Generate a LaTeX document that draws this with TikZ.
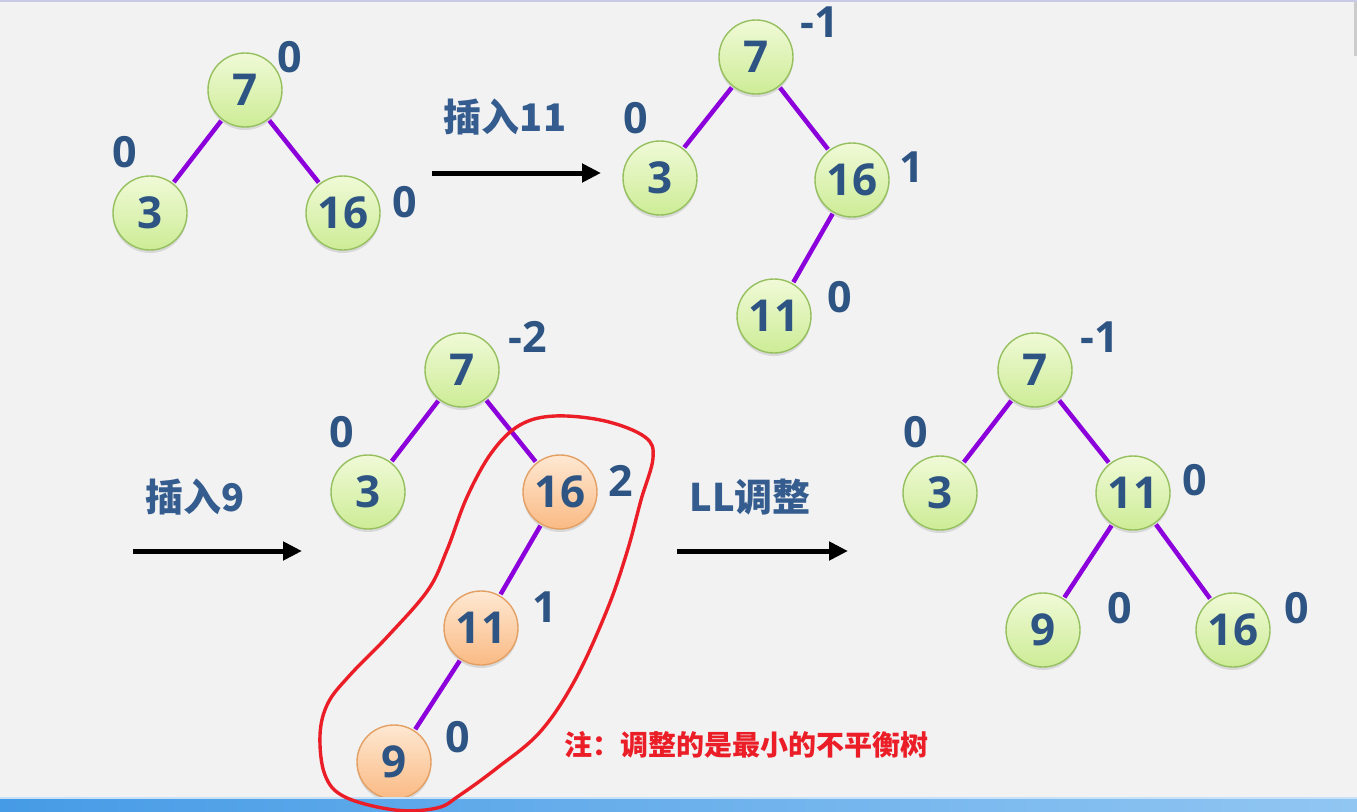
\documentclass[tikz,border=0pt]{standalone}
\usepackage{fontspec}
\setmainfont{Open Sans}
\newfontfamily\cjk{Noto Sans CJK SC}
\usetikzlibrary{arrows.meta,shadows}
\definecolor{bg}{RGB}{242,242,242}
\definecolor{numblue}{RGB}{45,84,130}
\definecolor{labblue}{RGB}{52,92,142}
\definecolor{edgepurple}{RGB}{140,0,220}
\definecolor{gtop}{RGB}{240,250,215}
\definecolor{gbot}{RGB}{205,236,150}
\definecolor{gborder}{RGB}{150,192,95}
\definecolor{otop}{RGB}{254,232,210}
\definecolor{obot}{RGB}{250,186,132}
\definecolor{oborder}{RGB}{228,160,100}
\definecolor{notered}{RGB}{235,30,40}
\definecolor{barleft}{RGB}{70,155,230}
\definecolor{barright}{RGB}{145,198,242}
\begin{document}
\begin{tikzpicture}[x=1pt,y=-1pt,
  treenode/.style={circle,minimum size=74pt,inner sep=0pt,outer sep=2pt,line width=1.4pt,
    font=\fontsize{44}{44}\selectfont\bfseries,text=numblue,
    drop shadow={shadow xshift=0pt,shadow yshift=-3pt,opacity=0.22}},
  gnode/.style={treenode,draw=gborder,top color=gtop,bottom color=gbot},
  onode/.style={treenode,draw=oborder,top color=otop,bottom color=obot},
  bal/.style={font=\fontsize{43}{43}\selectfont\bfseries,text=numblue,inner sep=0pt},
  steplabel/.style={font=\cjk\bfseries\fontsize{38}{38}\selectfont,text=labblue,inner sep=0pt},
  link/.style={draw=edgepurple,line width=4.5pt},
  arr/.style={line width=5pt,-{Triangle[length=19pt,width=18pt]}},
]
\useasboundingbox (0,0) rectangle (1357,811);
\fill[bg] (0,0) rectangle (1357,811);
\fill[gray!60!blue!30] (0,0) rectangle (1357,2);
\fill[black!20] (1354,2) rectangle (1357,56);

% Tree 1
\node[gnode] (a7) at (245,90) {7};
\node[gnode] (a3) at (150,213) {3};
\node[gnode] (a16) at (343,213) {16};
\draw[link] (a7) -- (a3);
\draw[link] (a7) -- (a16);
\node[bal] (la7) at (290,57) {0};
\node[bal] (la3) at (125,152) {0};
\node[bal] (la16) at (405,202) {0};

% Arrow 1
\coordinate (s1) at (432,173);
\coordinate (e1) at (601,173);
\draw[arr] (s1) -- (e1);
\node[steplabel] (t1) at (505,117) {插入11};

% Tree 2
\node[gnode] (b7) at (756,57) {7};
\node[gnode] (b3) at (660,178) {3};
\node[gnode] (b16) at (852,180) {16};
\node[gnode] (b11) at (774,316) {11};
\draw[link] (b7) -- (b3);
\draw[link] (b7) -- (b16);
\draw[link] (b16) -- (b11);
\node[bal] (lb7) at (820,22) {-1};
\node[bal] (lb3) at (636,118) {0};
\node[bal] (lb16) at (912,167) {1};
\node[bal] (lb11) at (840,297) {0};

% Arrow 2
\coordinate (s2) at (133,551);
\coordinate (e2) at (302,551);
\draw[arr] (s2) -- (e2);
\node[steplabel] (t2) at (195,497) {插入9};

% Tree 3
\node[gnode] (c7) at (462,370) {7};
\node[gnode] (c3) at (368,492) {3};
\node[onode] (c16) at (560,492) {16};
\node[onode] (c11) at (481,628) {11};
\node[onode] (c9) at (394,762) {9};
\draw[link] (c7) -- (c3);
\draw[link] (c7) -- (c16);
\draw[link] (c16) -- (c11);
\draw[link] (c11) -- (c9);
\node[bal] (lc7) at (528,337) {-2};
\node[bal] (lc3) at (342,432) {0};
\node[bal] (lc16) at (621,481) {2};
\node[bal] (lc11) at (545,607) {1};
\node[bal] (lc9) at (458,737) {0};

% Arrow 3
\coordinate (s3) at (677,551);
\coordinate (e3) at (848,551);
\draw[arr] (s3) -- (e3);
\node[steplabel] (t3) at (750,497) {LL调整};

% Tree 4
\node[gnode] (d7) at (1035,370) {7};
\node[gnode] (d3) at (940,493) {3};
\node[gnode] (d11) at (1133,493) {11};
\node[gnode] (d9) at (1043,630) {9};
\node[gnode] (d16) at (1233,630) {16};
\draw[link] (d7) -- (d3);
\draw[link] (d7) -- (d11);
\draw[link] (d11) -- (d9);
\draw[link] (d11) -- (d16);
\node[bal] (ld7) at (1100,337) {-1};
\node[bal] (ld3) at (916,432) {0};
\node[bal] (ld11) at (1195,480) {0};
\node[bal] (ld9) at (1120,608) {0};
\node[bal] (ld16) at (1297,608) {0};

% Note
\node[font=\cjk\bfseries\fontsize{28}{28}\selectfont,text=notered,inner sep=0pt] (note) at (746,745) {注：调整的是最小的不平衡树};

% taskbar
\shade[left color=barleft,right color=barright] (0,797) rectangle (1357,811);
\fill[white!70!barleft] (0,797) rectangle (1357,798.5);

% red loop
\draw[notered,line width=3.4pt] plot[smooth cycle,tension=0.6] coordinates {
 (520,425) (555,416) (605,421) (645,437) (653,458) (641,500) (627,552) (607,610)
 (575,680) (540,732) (497,768) (460,795) (437,808) (395,810) (345,797) (325,775)
 (320,735) (328,703) (350,675) (388,636) (428,590) (447,550) (467,497) (492,452)};
\end{tikzpicture}
\end{document}
